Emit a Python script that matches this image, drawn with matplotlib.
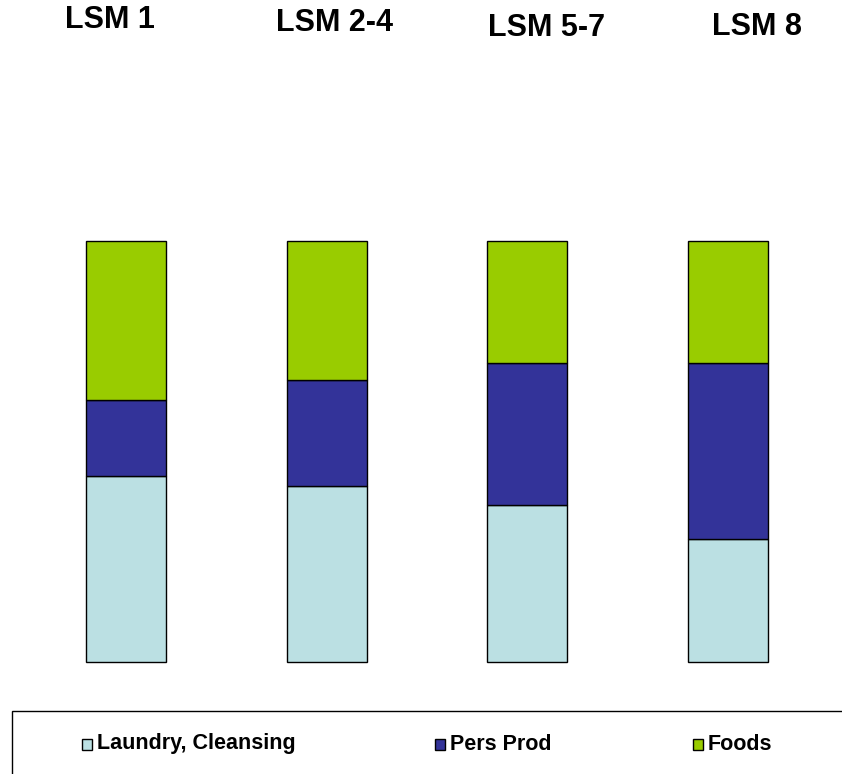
import matplotlib.pyplot as plt
from matplotlib.patches import Rectangle

# share of each category per LSM group (%)
groups = ['LSM 1', 'LSM 2-4', 'LSM 5-7', 'LSM 8']
laundry = [44.2, 41.8, 37.3, 29.2]
pers_prod = [18.1, 25.2, 33.7, 41.8]
foods = [37.7, 33.0, 29.0, 29.0]

series = ['Laundry, Cleansing', 'Pers Prod', 'Foods']
colors = ['#BBE0E3', '#333399', '#99CC00']

W, H = 842, 774
fig = plt.figure(figsize=(W / 100, H / 100), dpi=100)
ax = fig.add_axes([0, (H - 662) / H, 1, 421 / H])

x = range(len(groups))
bottom = [0] * len(groups)
for vals, c in zip([laundry, pers_prod, foods], colors):
    ax.bar(x, vals, width=0.399, bottom=bottom, color=c, edgecolor='black',
           linewidth=1, clip_on=False)
    bottom = [b + v for b, v in zip(bottom, vals)]

ax.set_xlim(-126 / 200.67, 3 + (W - 728) / 200.67)
ax.set_ylim(0, 100)
ax.axis('off')

# group headings above the bars
title_pos = [(110, 20), (335, 23), (547, 28), (757, 27)]
for g, (px, py) in zip(groups, title_pos):
    fig.text(px / W, 1 - py / H, g, ha='center', va='center',
             fontsize=22, fontweight='bold', family='Liberation Sans')

# legend frame running off the bottom right
fig.add_artist(Rectangle((12 / W, -0.01), 1, (H - 711) / H + 0.01,
                         transform=fig.transFigure, fill=False,
                         edgecolor='black', linewidth=1))
leg_x = [82, 435, 693]
for lx, name, c in zip(leg_x, series, colors):
    fig.add_artist(Rectangle((lx / W, 1 - 750 / H), 10 / W, 11 / H,
                             transform=fig.transFigure, facecolor=c,
                             edgecolor='black', linewidth=1))
    fig.text((lx + 15) / W, 1 - 744 / H, name, ha='left', va='center',
             fontsize=15.5, fontweight='bold', family='Liberation Sans')

fig.savefig('out.png', dpi=100)
